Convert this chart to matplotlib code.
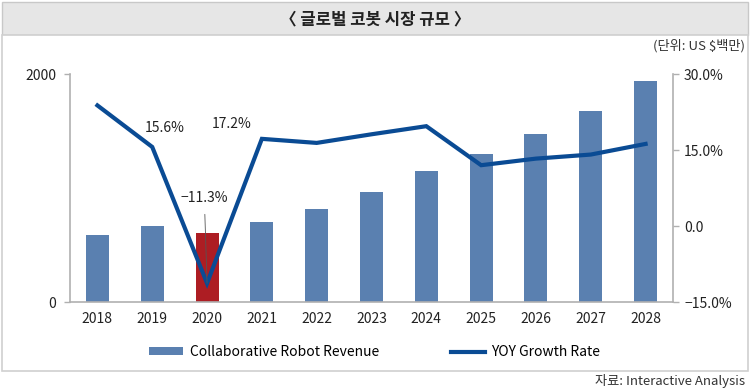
import matplotlib.pyplot as plt
from matplotlib.patches import Rectangle

plt.rcParams['font.family'] = ['Noto Sans CJK KR', 'DejaVu Sans']

years = ['2018', '2019', '2020', '2021', '2022', '2023', '2024', '2025', '2026', '2027', '2028']
revenue = [585, 668, 602, 700, 816, 962, 1149, 1298, 1474, 1675, 1941]
growth = [23.8, 15.6, -11.3, 17.2, 16.4, 18.1, 19.7, 12.0, 13.3, 14.1, 16.2]

bar_blue = '#5a80b0'
bar_red = '#ad1d23'
line_blue = '#0a4b94'
grey = '#b0b0b0'
fs = 10

fig = plt.figure(figsize=(7.5, 3.92), dpi=100)

# frame: title band + chart box (kept behind the axes)
fig.patches.append(Rectangle((0.003, 1 - 35 / 392), 0.994, 33 / 392, transform=fig.transFigure,
                             facecolor='#e6e6e6', edgecolor='#c8c8c8', lw=1, zorder=-10))
fig.patches.append(Rectangle((0.003, 0.053), 0.994, 1 - 35 / 392 - 0.053, transform=fig.transFigure,
                             facecolor='white', edgecolor='#d0d0d0', lw=1.2, zorder=-10))
fig.text(0.5, 1 - 19 / 392, '〈 글로벌 코봇 시장 규모 〉', ha='center', va='center', fontsize=12,
         fontweight='bold', color='#222222')
fig.text(0.993, 1 - 46 / 392, '(단위: US $백만)', ha='right', va='center', fontsize=9.5, color='#333333')
fig.text(0.993, 1 - 381 / 392, '자료: Interactive Analysis', ha='right', va='center', fontsize=9.5, color='#333333')

ax = fig.add_axes([70 / 750, 1 - 302 / 392, (673 - 70) / 750, (302 - 74) / 392])
ax.patch.set_alpha(0)
x = range(len(years))
colors = [bar_red if y == '2020' else bar_blue for y in years]
bars = ax.bar(x, revenue, width=0.42, color=colors, zorder=2)
ax.set_ylim(0, 2000)
ax.set_xlim(-0.5, len(years) - 0.5)
ax.set_yticks([0, 2000])
ax.set_yticklabels(['0', '2000'])
ax.set_xticks(list(x))
ax.set_xticklabels(years)
ax.tick_params(axis='x', length=0, pad=7, labelsize=fs, colors='#222222')
ax.tick_params(axis='y', length=4, width=1, color=grey, pad=6, labelsize=fs, labelcolor='#222222')
for s in ['top', 'right']:
    ax.spines[s].set_visible(False)
for s in ['left', 'bottom']:
    ax.spines[s].set_color(grey)
    ax.spines[s].set_linewidth(1.2)

ax2 = ax.twinx()
ln, = ax2.plot(list(x), growth, color=line_blue, lw=3, zorder=3, solid_joinstyle='miter')
ax2.set_ylim(-15, 30)
ax2.set_yticks([-15, 0, 15, 30])
ax2.set_yticklabels(['\u221215.0%', '0.0', '15.0%', '30.0%'])
ax2.tick_params(axis='y', length=4, width=1, color=grey, pad=4, labelsize=fs, labelcolor='#222222')
for s in ['top', 'left', 'bottom']:
    ax2.spines[s].set_visible(False)
ax2.spines['right'].set_color(grey)
ax2.spines['right'].set_linewidth(1.2)

ax2.annotate('15.6%', xy=(1, growth[1]), xytext=(1.22, 19.4), ha='center', va='center', fontsize=fs, color='#222222')
ax2.annotate('17.2%', xy=(3, growth[3]), xytext=(2.45, 20.2), ha='center', va='center', fontsize=fs, color='#222222')
ax2.annotate('\u221211.3%', xy=(2, growth[2]), xytext=(1.95, 5.6), ha='center', va='center', fontsize=fs,
             color='#222222', arrowprops=dict(arrowstyle='-', color='#555555', lw=0.6, shrinkA=5, shrinkB=0))

fig.legend([bars, ln], ['Collaborative Robot Revenue', 'YOY Growth Rate'], loc='center',
           bbox_to_anchor=(0.5, 1 - 352 / 392), ncol=2, frameon=False, fontsize=fs,
           handlelength=2.4, handleheight=0.45, columnspacing=5.2, handletextpad=0.5)

fig.savefig('out.png', dpi=100)
